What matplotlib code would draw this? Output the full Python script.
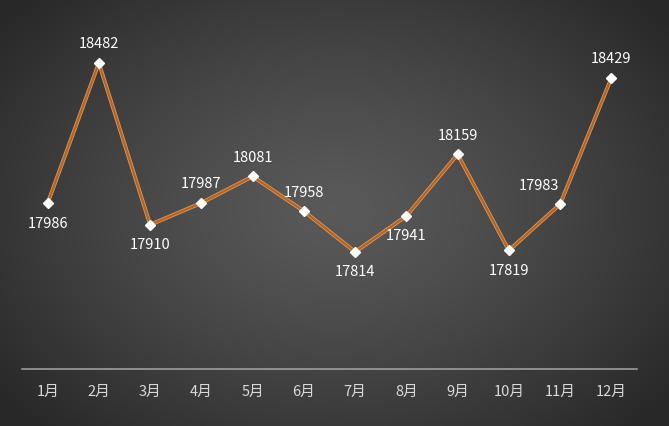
import numpy as np
import matplotlib
matplotlib.use('Agg')
import matplotlib.pyplot as plt

plt.rcParams['font.family'] = ['Noto Sans CJK SC', 'DejaVu Sans']

months = ['1月', '2月', '3月', '4月', '5月', '6月', '7月', '8月', '9月', '10月', '11月', '12月']
values = [17986, 18482, 17910, 17987, 18081, 17958, 17814, 17941, 18159, 17819, 17983, 18429]
# where each data label sits: above / below the point
label_pos = ['below', 'above', 'below', 'above', 'above', 'above',
             'below', 'below', 'above', 'below', 'above', 'above']

fig = plt.figure(figsize=(6.69, 4.27), dpi=100)

# radial gradient background
bg = fig.add_axes([0, 0, 1, 1])
yy, xx = np.mgrid[0:427, 0:669]
r = np.sqrt(((xx - 334) / 420.0) ** 2 + ((yy - 210) / 300.0) ** 2)
r = np.clip(r, 0, 1)
g = 0.35 - 0.19 * r ** 1.3
img = np.dstack([g, g, g])
bg.imshow(img, aspect='auto', extent=[0, 1, 0, 1], origin='upper')
bg.axis('off')

ax = fig.add_axes([22 / 669, 1 - 370 / 427, 615 / 669, (370 - 30.6) / 427])
ax.patch.set_alpha(0)
x = np.arange(len(months))
ax.plot(x, values, color='#d99a63', lw=2.8, zorder=2)
ax.plot(x, values, color='#b8621f', lw=1.6, zorder=2)
ax.plot(x, values, color='white', lw=0, marker='D', markersize=5.5, zorder=3)

for i, v in enumerate(values):
    dx = 0
    if i == 10:
        dx = -15
    if label_pos[i] == 'above':
        ax.annotate(str(v), (i, v), xytext=(dx, 9), textcoords='offset points',
                    ha='center', va='bottom', color='white', fontsize=10.5)
    else:
        ax.annotate(str(v), (i, v), xytext=(dx, -9), textcoords='offset points',
                    ha='center', va='top', color='white', fontsize=10.5)

ax.set_xlim(-0.5, len(months) - 0.5)
ax.set_ylim(17400, 18600)
ax.set_xticks(x)
ax.set_xticklabels(months, color='#d9d9d9', fontsize=10.5)
ax.tick_params(axis='x', length=0, pad=11)
ax.set_yticks([])
for s in ['top', 'right', 'left']:
    ax.spines[s].set_visible(False)
ax.spines['bottom'].set_color('#a6a6a6')
ax.spines['bottom'].set_linewidth(1.1)

fig.savefig('out.png', dpi=100)
